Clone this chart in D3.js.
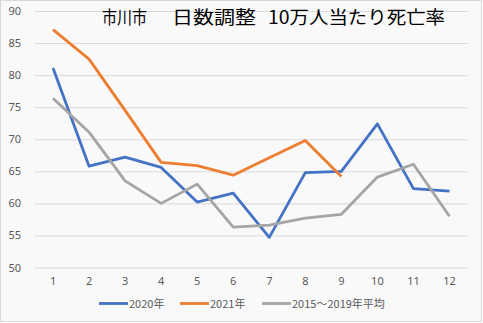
<!DOCTYPE html>
<html><head><meta charset="utf-8">
<script src="https://cdn.jsdelivr.net/npm/d3@7"></script>
<style>
html,body{margin:0;padding:0;background:#fff;}
svg{display:block;}
</style></head>
<body>
<script>
const months = ["1","2","3","4","5","6","7","8","9","10","11","12"];
const s2020 = [81.1,65.8,67.2,65.6,60.2,61.6,54.7,64.8,65.0,72.4,62.3,61.9];
const s2021 = [87.1,82.5,74.5,66.4,65.9,64.4,67.1,69.8,64.2];
const sAvg = [76.4,71.1,63.5,60.0,63.0,56.3,56.6,57.7,58.3,64.1,66.1,58.0];
const yTicks = [50,55,60,65,70,75,80,85,90];
const seriesNames = ["2020年","2021年","2015～2019年平均"];
const colors = ["#4472c4","#ed7d31","#a5a5a5"];
const titleParts = ["市川市","日数調整","10万人当たり死亡率"];

const W=483,H=323;
const svg=d3.select("body").append("svg").attr("width",W).attr("height",H);
svg.append("rect").attr("x",0.5).attr("y",0.5).attr("width",W-2).attr("height",H-2)
  .attr("fill","#f9f9f9").attr("stroke","#d9d9d9");

const x=d3.scaleBand().domain(months).range([35,467.5]);
const y=d3.scaleLinear().domain([50,90]).range([267.5,11]);

const yAxis=svg.append("g").attr("transform","translate(35,0)")
  .call(d3.axisLeft(y).tickValues(yTicks).tickSize(-(467.5-35)).tickPadding(14));
yAxis.select(".domain").remove();
yAxis.selectAll("line").attr("stroke","#d9d9d9").attr("stroke-width",1);
yAxis.selectAll("text").attr("fill","#595959").style("font-family","'Noto Sans',sans-serif").style("font-size","11px");

const xAxis=svg.append("g").attr("transform","translate(0,267.5)")
  .call(d3.axisBottom(x).tickSize(0).tickPadding(10));
xAxis.select(".domain").remove();
xAxis.selectAll("text").attr("fill","#595959").style("font-family","'Noto Sans',sans-serif").style("font-size","11px");

const line=d3.line().x((d,i)=>x(months[i])+x.bandwidth()/2).y(d=>y(d));
[s2020,s2021,sAvg].forEach((s,k)=>{
  svg.append("path").datum(s).attr("d",line).attr("fill","none")
    .attr("stroke",colors[k]).attr("stroke-width",2.8).attr("stroke-linejoin","round");
});

const tX=[102,172,268], tL=[45,84,177];
const title=svg.append("text").attr("y",24)
  .style("font-family","'Noto Sans CJK JP',sans-serif").style("font-size","18px").attr("fill","#000");
titleParts.forEach((p,i)=>{
  title.append("tspan").attr("x",tX[i]).attr("textLength",tL[i]).attr("lengthAdjust","spacingAndGlyphs").text(p);
});

const legX=[99,180,262];
seriesNames.forEach((n,k)=>{
  const g=svg.append("g");
  g.append("line").attr("x1",legX[k]).attr("x2",legX[k]+29).attr("y1",303.5).attr("y2",303.5)
   .attr("stroke",colors[k]).attr("stroke-width",2.8);
  g.append("text").attr("x",legX[k]+30).attr("y",307.5).text(n)
   .attr("fill","#595959").style("font-family","'Noto Sans CJK JP',sans-serif").style("font-size","11px");
});
</script>
</body></html>
